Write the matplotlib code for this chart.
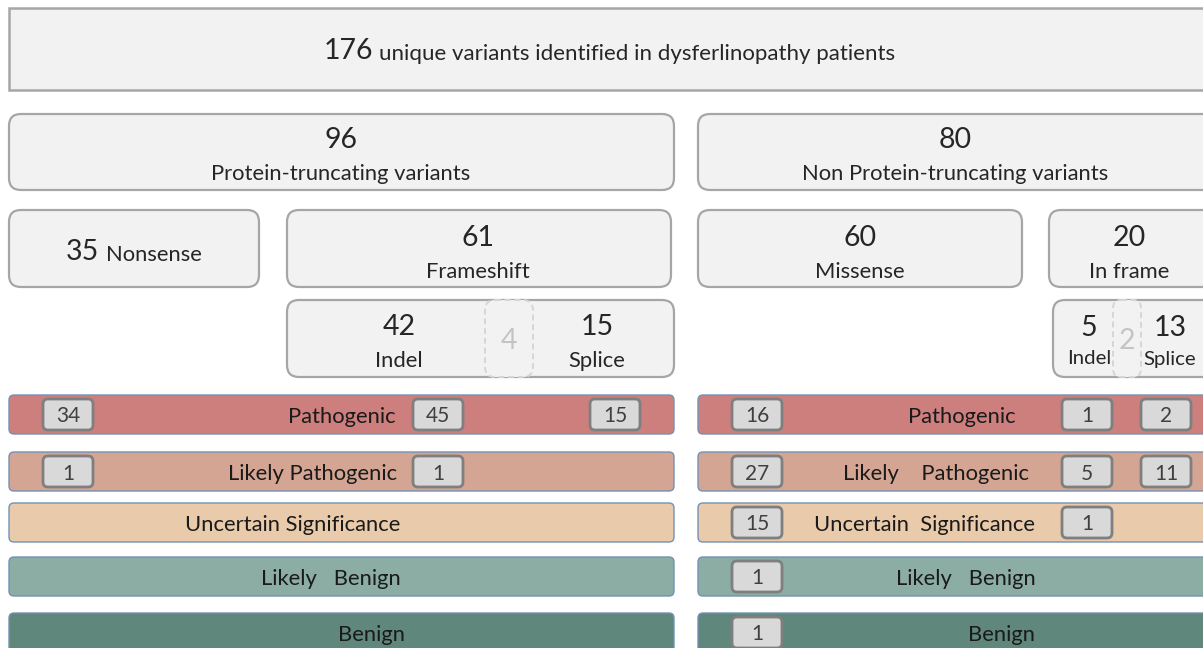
import matplotlib.pyplot as plt
from matplotlib.patches import FancyBboxPatch, Rectangle

plt.rcParams['font.family'] = ['Lato', 'DejaVu Sans']

# counts of the variant tree
total = 176
truncating = 96
non_truncating = 80
nonsense = 35
frameshift = 61
missense = 60
in_frame = 20
fs_indel, fs_both, fs_splice = 42, 4, 15
if_indel, if_both, if_splice = 5, 2, 13

# classification rows
left_labels = ["Pathogenic", "Likely Pathogenic", "Uncertain Significance",
               "Likely   Benign", "Benign"]
right_labels = ["Pathogenic", "Likely    Pathogenic", "Uncertain  Significance",
                "Likely   Benign", "Benign"]
# counts per category, in row order (None = no box)
nonsense_counts = [34, 1, None, None, None]
fs_indel_counts = [45, 1, None, None, None]
fs_splice_counts = [15, None, None, None, None]
missense_counts = [16, 27, 15, 1, 1]
if_indel_counts = [1, 5, 1, None, None]
if_splice_counts = [2, 11, None, None, None]

row_colors = ["#cd7f7e", "#d5a593", "#e9cbab", "#8bada3", "#5f877b"]

W, H = 1203, 648
fig = plt.figure(figsize=(W / 100, H / 100), dpi=100)
ax = fig.add_axes([0, 0, 1, 1])
ax.set_xlim(0, W)
ax.set_ylim(H, 0)
ax.axis('off')

txt = "#262626"
box_fill = "#f2f2f2"
box_edge = "#a6a6a6"
BIG = 20.5
SMALL = 15.8


def rbox(x0, y0, x1, y1, fc=box_fill, ec=box_edge, lw=1.6, r=12, ls='-', z=1):
    p = FancyBboxPatch((x0, y0), x1 - x0, y1 - y0,
                       boxstyle=f"round,pad=0,rounding_size={r}",
                       fc=fc, ec=ec, lw=lw, ls=ls, zorder=z)
    ax.add_patch(p)


def two_line(x, y0, num, label, big=BIG, small=SMALL, dy=34):
    ax.text(x, y0, str(num), ha='center', va='center', fontsize=big, color=txt, zorder=5)
    ax.text(x, y0 + dy, label, ha='center', va='center', fontsize=small, color=txt, zorder=5)


# top box
ax.add_patch(Rectangle((9, 8), 1210, 82, fc=box_fill, ec=box_edge, lw=1.8, zorder=1))
ax.text(373, 51, str(total), ha='right', va='center', fontsize=BIG, color=txt)
ax.text(379, 54, "unique variants identified in dysferlinopathy patients",
        ha='left', va='center', fontsize=16, color=txt)

# second level
rbox(9, 114, 674, 190)
two_line(341, 140, truncating, "Protein-truncating variants")
rbox(698, 114, 1215, 190)
two_line(955, 140, non_truncating, "Non Protein-truncating variants")

# third level
rbox(9, 210, 259, 287)
ax.text(99, 252, str(nonsense), ha='right', va='center', fontsize=BIG, color=txt)
ax.text(106, 255, "Nonsense", ha='left', va='center', fontsize=SMALL, color=txt)
rbox(287, 210, 671, 287)
two_line(478, 238, frameshift, "Frameshift")
rbox(698, 210, 1022, 287)
two_line(860, 238, missense, "Missense")
rbox(1049, 210, 1215, 287)
two_line(1129, 238, in_frame, "In frame")

# fourth level
rbox(287, 300, 674, 377)
rbox(485, 300, 533, 377, ec="#d6d6d6", ls=(0, (3, 2)), lw=1.4, r=10, z=2)
two_line(399, 327, fs_indel, "Indel")
two_line(597, 327, fs_splice, "Splice")
ax.text(509, 341, str(fs_both), ha='center', va='center', fontsize=BIG, color="#c4c4c4", zorder=5)

rbox(1053, 300, 1215, 377)
rbox(1113, 300, 1141, 377, ec="#d6d6d6", ls=(0, (3, 2)), lw=1.4, r=8, z=2)
two_line(1089, 328, if_indel, "Indel", small=14.7, dy=31)
two_line(1170, 328, if_splice, "Splice", small=14.7, dy=31)
ax.text(1127, 341, str(if_both), ha='center', va='center', fontsize=BIG, color="#c4c4c4", zorder=5)

# classification bars
row_tops = [395, 452, 503, 557, 613]
row_h = 39
left_lab_x = [342, 313, 293, 331, 372]
right_lab_x = [962, 936, 925, 966, 1001]
left_cols = [(68, nonsense_counts), (438, fs_indel_counts), (615, fs_splice_counts)]
right_cols = [(757, missense_counts), (1087, if_indel_counts), (1166, if_splice_counts)]

for i, top in enumerate(row_tops):
    h = row_h if i < 4 else 60
    rbox(9, top, 674, top + h, fc=row_colors[i], ec="#7391b5", lw=1.0, r=5)
    rbox(698, top, 1215, top + h, fc=row_colors[i], ec="#7391b5", lw=1.0, r=5)
    cy = top + 22
    ax.text(left_lab_x[i], cy, left_labels[i], ha='center', va='center',
            fontsize=SMALL, color="#1a1a1a", zorder=5)
    ax.text(right_lab_x[i], cy, right_labels[i], ha='center', va='center',
            fontsize=SMALL, color="#1a1a1a", zorder=5)
    for cx, counts in left_cols + right_cols:
        v = counts[i]
        if v is None:
            continue
        rbox(cx - 25, top + 4, cx + 25, top + 35, fc="#d9d9d9", ec="#7f7f7f", lw=2.0, r=5, z=3)
        ax.text(cx, top + 21.5, str(v), ha='center', va='center',
                fontsize=15, color="#404040", zorder=5)

fig.savefig("out.png", dpi=100)
